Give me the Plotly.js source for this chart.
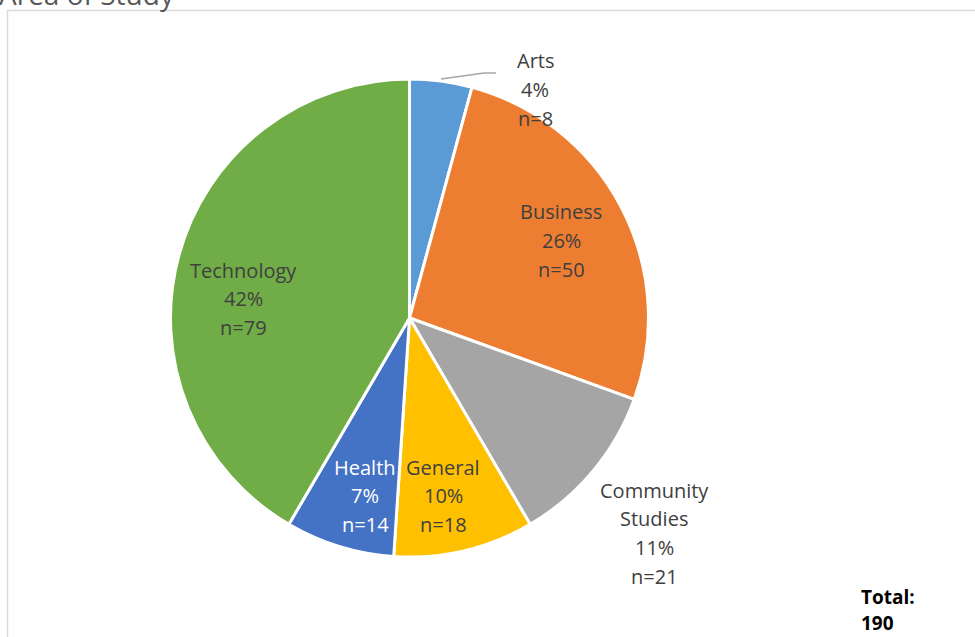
<!DOCTYPE html>
<html>
<head>
<meta charset="utf-8">
<script src="https://cdn.plot.ly/plotly-3.0.1.min.js"></script>
<style>html,body{margin:0;padding:0;background:#fff;overflow:hidden}#chart{width:975px;height:637px}</style>
</head>
<body>
<div id="chart"></div>
<script>
// Data
var categories = ["Arts", "Business", "Community Studies", "General", "Health", "Technology"];
var counts = [8, 50, 21, 18, 14, 79];
var pctLabels = ["4%", "26%", "11%", "10%", "7%", "42%"];
var colors = ["#5b9bd5", "#ed7d31", "#a5a5a5", "#ffc000", "#4472c4", "#70ad47"];
var chartTitle = "Area of Study";
var totalLabel = "Total:";
var totalValue = 190;

// Layout helpers (pixel -> paper)
var W = 975, H = 637;
function px(x){ return x / W; }
function py(y){ return 1 - y / H; }

// label placement (pixel centers of first line) and line step
var labelPos = [
  {x: 535, y: 61},   // Arts
  {x: 561, y: 212},  // Business
  {x: 654, y: 490},  // Community Studies
  {x: 443, y: 467},  // General
  {x: 365, y: 467},  // Health
  {x: 243, y: 270}   // Technology
];
var labelColors = ["#404040", "#404040", "#404040", "#404040", "#ffffff", "#404040"];
var step = 28.8;
var FONT = "Open Sans, sans-serif";

var annotations = [];
categories.forEach(function(cat, i){
  var lines = (cat === "Community Studies") ? ["Community", "Studies"] : [cat];
  lines = lines.concat([pctLabels[i], "n=" + counts[i]]);
  lines.forEach(function(t, k){
    annotations.push({
      xref: "paper", yref: "paper",
      x: px(labelPos[i].x), y: py(labelPos[i].y + k * step),
      text: t, showarrow: false, xanchor: "center", yanchor: "middle",
      font: {family: FONT, size: 20, color: labelColors[i]}
    });
  });
});
// Total
annotations.push({xref:"paper", yref:"paper", x: px(859), y: py(597), text: "<b>" + totalLabel + "</b>",
  showarrow:false, xanchor:"left", yanchor:"middle", font:{family:FONT, size:19, color:"#000"}});
annotations.push({xref:"paper", yref:"paper", x: px(859), y: py(623), text: "<b>" + totalValue + "</b>",
  showarrow:false, xanchor:"left", yanchor:"middle", font:{family:FONT, size:19, color:"#000"}});
// Title (partially cut off at top of page, as in the reference)
annotations.push({xref:"paper", yref:"paper", x: px(-3), y: py(-6), text: chartTitle,
  showarrow:false, xanchor:"left", yanchor:"middle", font:{family:FONT, size:28, color:"#595959"}});

var cx = 409.5, cy = 318, r = 239;
var data = [{
  type: "pie",
  labels: categories,
  values: counts,
  sort: false,
  direction: "clockwise",
  rotation: 0,
  textinfo: "none",
  hoverinfo: "label+value+percent",
  marker: {colors: colors, line: {color: "#ffffff", width: 3}},
  domain: {x: [px(cx - r), px(cx + r)], y: [py(cy + r), py(cy - r)]},
  showlegend: false
}];

var layout = {
  width: W, height: H,
  margin: {l: 0, r: 0, t: 0, b: 0},
  paper_bgcolor: "#ffffff",
  showlegend: false,
  annotations: annotations,
  shapes: [
    {type: "rect", xref: "paper", yref: "paper", x0: px(7.5), x1: px(990), y0: py(660), y1: py(10.5),
     line: {color: "#d9d9d9", width: 1.5}, fillcolor: "rgba(0,0,0,0)", layer: "below"},
    {type: "path", xref: "paper", yref: "paper",
     path: "M " + px(441) + "," + py(79) + " L " + px(484) + "," + py(73) + " L " + px(496) + "," + py(73),
     line: {color: "#a6a6a6", width: 1.3}}
  ]
};

Plotly.newPlot("chart", data, layout, {displayModeBar: false, staticPlot: true});
</script>
</body>
</html>
